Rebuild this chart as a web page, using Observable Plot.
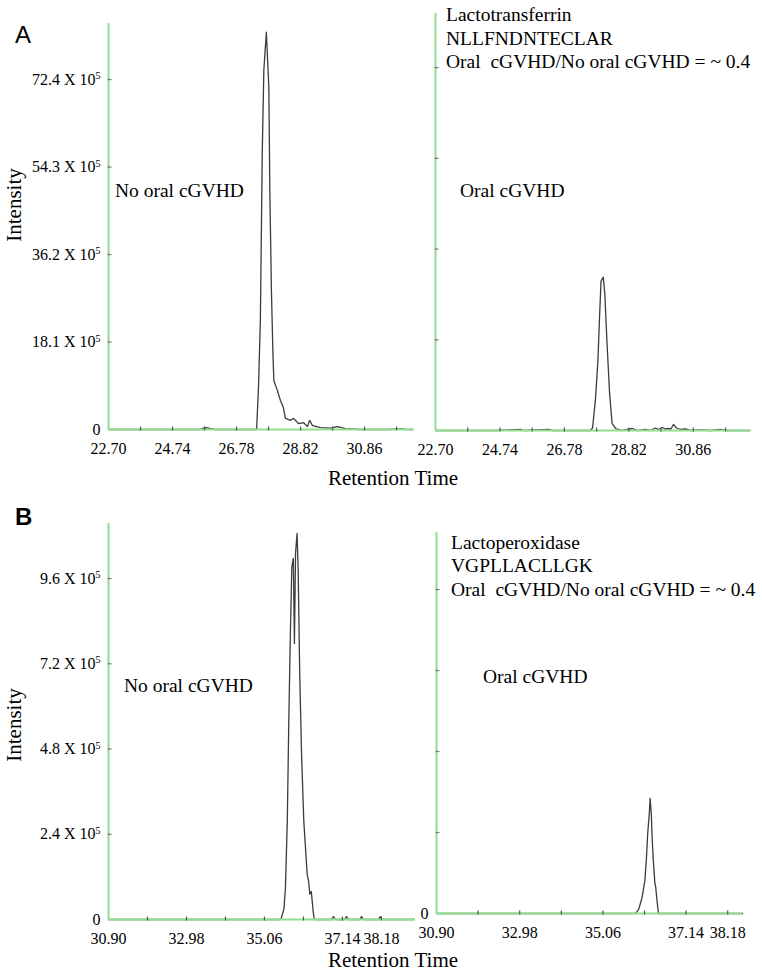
<!DOCTYPE html>
<html><head><meta charset="utf-8">
<script src="https://cdn.jsdelivr.net/npm/d3@7"></script>
<script src="https://cdn.jsdelivr.net/npm/@observablehq/plot@0.6"></script>
<style>
body{margin:0;background:#fff;}
#root{position:relative;width:762px;height:973px;overflow:hidden;background:#fff;font-family:"Liberation Serif","Times New Roman",serif;color:#000;}
.panel{position:absolute;}
.panel text{font-family:"Liberation Serif","Times New Roman",serif !important;}
</style></head><body><div id="root"></div>
<script>
// ---------- Data (intensity in units of 10^5) ----------
// Panel A – Lactotransferrin NLLFNDNTECLAR
const aNoOralTime = [22.70,23.50,24.30,25.60,25.73,25.82,25.95,26.10,27.23,27.42,27.48,27.54,27.60,27.65,27.73,27.81,27.84,27.89,27.94,27.97,28.08,28.18,28.27,28.34,28.50,28.60,28.76,28.92,29.04,29.11,29.20,29.46,29.78,30.00,30.25,30.73,31.60,32.01,32.17,32.40];
const aNoOralIntensity = [0,0,0,0,0.3,0.4,0.2,0,0,0,8.7,22.6,57.1,74.3,82.2,70.8,50.1,29.4,15.7,10.1,8.1,6.0,4.6,2.3,1.9,2.3,1.2,1.4,0.6,1.9,0.8,0.4,0.3,0.6,0.2,0,0,0.1,0,0];
const aOralTime = [22.70,23.81,24.60,25.40,25.50,26.28,26.40,27.60,27.67,27.76,27.84,27.90,27.94,28.01,28.06,28.13,28.21,28.29,28.40,28.60,28.93,29.10,29.35,29.50,29.66,29.75,29.88,29.97,30.07,30.15,30.23,30.33,30.45,30.61,30.80,31.09,31.40,31.72,31.90,32.65];
const aOralIntensity = [0,0,0,0.2,0,0.2,0,0,0.5,6.0,13.9,23.9,29.8,30.6,27.2,17.3,7.4,1.4,0.4,0,0.4,0,0.2,0,0.5,0.2,0.6,0.3,0.4,0.3,1.2,0.5,0.2,0.3,0,0.1,0,0.2,0,0];
const aXLabels = [22.70,24.74,26.78,28.82,30.86];
const aXTicks = [23.72,24.74,25.76,26.78,27.80,28.82,29.84,30.86,31.88];
const aYTicks = [18.1,36.2,54.3,72.4];
const aYLabels = [0,18.1,36.2,54.3,72.4];

// Panel B – Lactoperoxidase VGPLLACLLGK
const bNoOralTime = [30.90,33.80,35.50,35.58,35.62,35.67,35.71,35.75,35.79,35.83,35.86,35.89,35.93,35.96,36.00,36.05,36.11,36.20,36.24,36.27,36.31,36.36,36.39,36.85,36.90,36.95,37.20,37.25,37.30,37.60,37.65,37.70,38.10,38.15,38.20,39.05];
const bNoOralIntensity = [0,0,0,0.3,0.88,2.77,5.59,7.94,9.92,10.17,7.77,10.31,10.87,9.83,7.00,4.66,2.77,1.27,1.07,0.71,0.79,0.23,0,0,0.08,0,0,0.08,0,0,0.08,0,0,0.08,0,0];
const bOralTime = [30.90,35.80,35.88,35.96,36.04,36.11,36.15,36.18,36.22,36.24,36.27,36.29,36.32,36.36,36.38,36.42,36.45,38.55];
const bOralIntensity = [0,0,0,0.14,0.48,0.98,1.67,2.37,2.96,3.41,2.96,2.26,1.57,0.89,0.78,0.30,0,0];
const bXLabels = [30.90,32.98,35.06,37.14,38.18];
const bXTicks = [31.94,32.98,34.02,35.06,36.10,37.14,38.18];
const bYTicks = [2.4,4.8,7.2,9.6];
const bYLabels = [0,2.4,4.8,7.2,9.6];

// ---------- Drawing ----------
const GREEN = "#8fe08f";
const FONT = '"Liberation Serif","Times New Roman",serif';
const tickUp = {draw(ctx){ctx.moveTo(0,1);ctx.lineTo(0,-3);}};
const tickRight = {draw(ctx){ctx.moveTo(-1,0);ctx.lineTo(3,0);}};
const root = document.getElementById("root");

function yFmt(d){ return d === 0 ? "0" : d.toFixed(1) + " X 10^5"; }

function panel(o){
  const idx = d3.range(o.time.length);
  const x0 = o.xDomain[0];
  const marks = [
    Plot.line(idx, {x: i => o.time[i], y: i => o.inten[i], stroke: "#3c3c3c", strokeWidth: 1.3}),
    Plot.ruleY([0], {stroke: GREEN, strokeWidth: 2}),
    Plot.ruleX([x0], {stroke: GREEN, strokeWidth: 2}),
    Plot.dot(o.xTicks, {x: d => d, y: 0, symbol: tickUp, r: 3, fill: "none", stroke: "#555", strokeWidth: 1.2}),
    Plot.dot(o.yTicks, {x: x0, y: d => d, symbol: tickRight, r: 3, fill: "none", stroke: "#777", strokeWidth: 1.2}),
    Plot.axisX(o.xLabels, {tickSize: 0, tickPadding: 13, tickFormat: d => d.toFixed(2), label: null, fontFamily: FONT})
  ];
  if (o.yLabels.length) marks.push(Plot.axisY(o.yLabels, {tickSize: 0, tickPadding: 8, tickFormat: yFmt, label: null, fontFamily: FONT}));
  const svg = Plot.plot({
    width: o.width, height: o.height,
    marginTop: o.mt, marginBottom: o.mb, marginLeft: o.ml, marginRight: o.mr,
    x: {domain: o.xDomain, axis: null}, y: {domain: o.yDomain, axis: null},
    style: {fontFamily: FONT, fontSize: "16px", color: "#000", background: "transparent", overflow: "visible"},
    marks
  });
  const s0 = d3.select(svg);
  s0.attr("font-family", FONT);
  s0.selectAll("g, text").attr("font-family", FONT).style("font-family", FONT);
  s0.selectAll("text").each(function(){
    const t = this.textContent;
    if (t.includes("^5")) {
      const s = d3.select(this);
      s.text(t.replace("^5", ""));
      s.append("tspan").attr("font-size", "10px").attr("dy", "-0.55em").text("5");
    }
  });
  svg.classList.add("panel");
  svg.style.left = o.left + "px";
  svg.style.top = o.top + "px";
  root.appendChild(svg);
}

panel({time: aNoOralTime, inten: aNoOralIntensity, left: 0, top: 0, width: 425, height: 470, mt: 23, mb: 41, ml: 108, mr: 12,
  xDomain: [22.70, 32.42], yDomain: [0, 84.0], xLabels: aXLabels, xTicks: aXTicks, yTicks: aYTicks, yLabels: aYLabels});
panel({time: aOralTime, inten: aOralIntensity, left: 415, top: 0, width: 347, height: 470, mt: 13, mb: 40, ml: 20, mr: 12,
  xDomain: [22.70, 32.67], yDomain: [0, 83.2], xLabels: aXLabels, xTicks: aXTicks, yTicks: aYTicks, yLabels: []});
panel({time: bNoOralTime, inten: bNoOralIntensity, left: 0, top: 490, width: 425, height: 483, mt: 33, mb: 54, ml: 108, mr: 10,
  xDomain: [30.90, 39.09], yDomain: [0, 11.15], xLabels: bXLabels, xTicks: bXTicks, yTicks: bYTicks, yLabels: bYLabels});
panel({time: bOralTime, inten: bOralIntensity, left: 416, top: 490, width: 346, height: 483, mt: 42, mb: 60, ml: 20, mr: 20,
  xDomain: [30.90, 38.55], yDomain: [0, 11.29], xLabels: bXLabels, xTicks: bXTicks, yTicks: bYTicks, yLabels: [0]});

// ---------- Text overlay ----------
const ov = d3.select(root).append("svg")
  .attr("width", 762).attr("height", 973)
  .style("position", "absolute").style("left", "0px").style("top", "0px").style("pointer-events", "none")
  .attr("font-family", FONT);

const labels = [
  {t: "A", x: 15, y: 43, size: 24, font: '"Liberation Sans",Arial,sans-serif'},
  {t: "B", x: 15, y: 525, size: 24, font: '"Liberation Sans",Arial,sans-serif', weight: "bold"},
  {t: "No oral cGVHD", x: 115, y: 197, size: 19.5},
  {t: "Oral cGVHD", x: 460, y: 197, size: 19.5},
  {t: "Lactotransferrin", x: 446, y: 21, size: 19.5},
  {t: "NLLFNDNTECLAR", x: 446, y: 45, size: 19.5},
  {t: "Oral  cGVHD/No oral cGVHD = ~ 0.4", x: 446, y: 68, size: 19.5},
  {t: "No oral cGVHD", x: 124, y: 692, size: 19.5},
  {t: "Oral cGVHD", x: 483, y: 683, size: 19.5},
  {t: "Lactoperoxidase", x: 451, y: 549, size: 19.5},
  {t: "VGPLLACLLGK", x: 451, y: 572, size: 19.5},
  {t: "Oral  cGVHD/No oral cGVHD = ~ 0.4", x: 451, y: 596, size: 19.5},
  {t: "Retention Time", x: 393, y: 485, size: 21, anchor: "middle"},
  {t: "Retention Time", x: 393, y: 967, size: 21, anchor: "middle"},
  {t: "Intensity", x: 21, y: 205, size: 21, anchor: "middle", rotate: true},
  {t: "Intensity", x: 21, y: 725, size: 21, anchor: "middle", rotate: true}
];
for (const l of labels) {
  const el = ov.append("text")
    .attr("font-size", l.size + "px")
    .attr("text-anchor", l.anchor || "start")
    .style("white-space", "pre")
    .attr("fill", "#000")
    .text(l.t);
  if (l.font) el.attr("font-family", l.font);
  if (l.weight) el.attr("font-weight", l.weight);
  if (l.rotate) el.attr("transform", `translate(${l.x},${l.y}) rotate(-90)`);
  else el.attr("x", l.x).attr("y", l.y);
}
</script></body></html>
